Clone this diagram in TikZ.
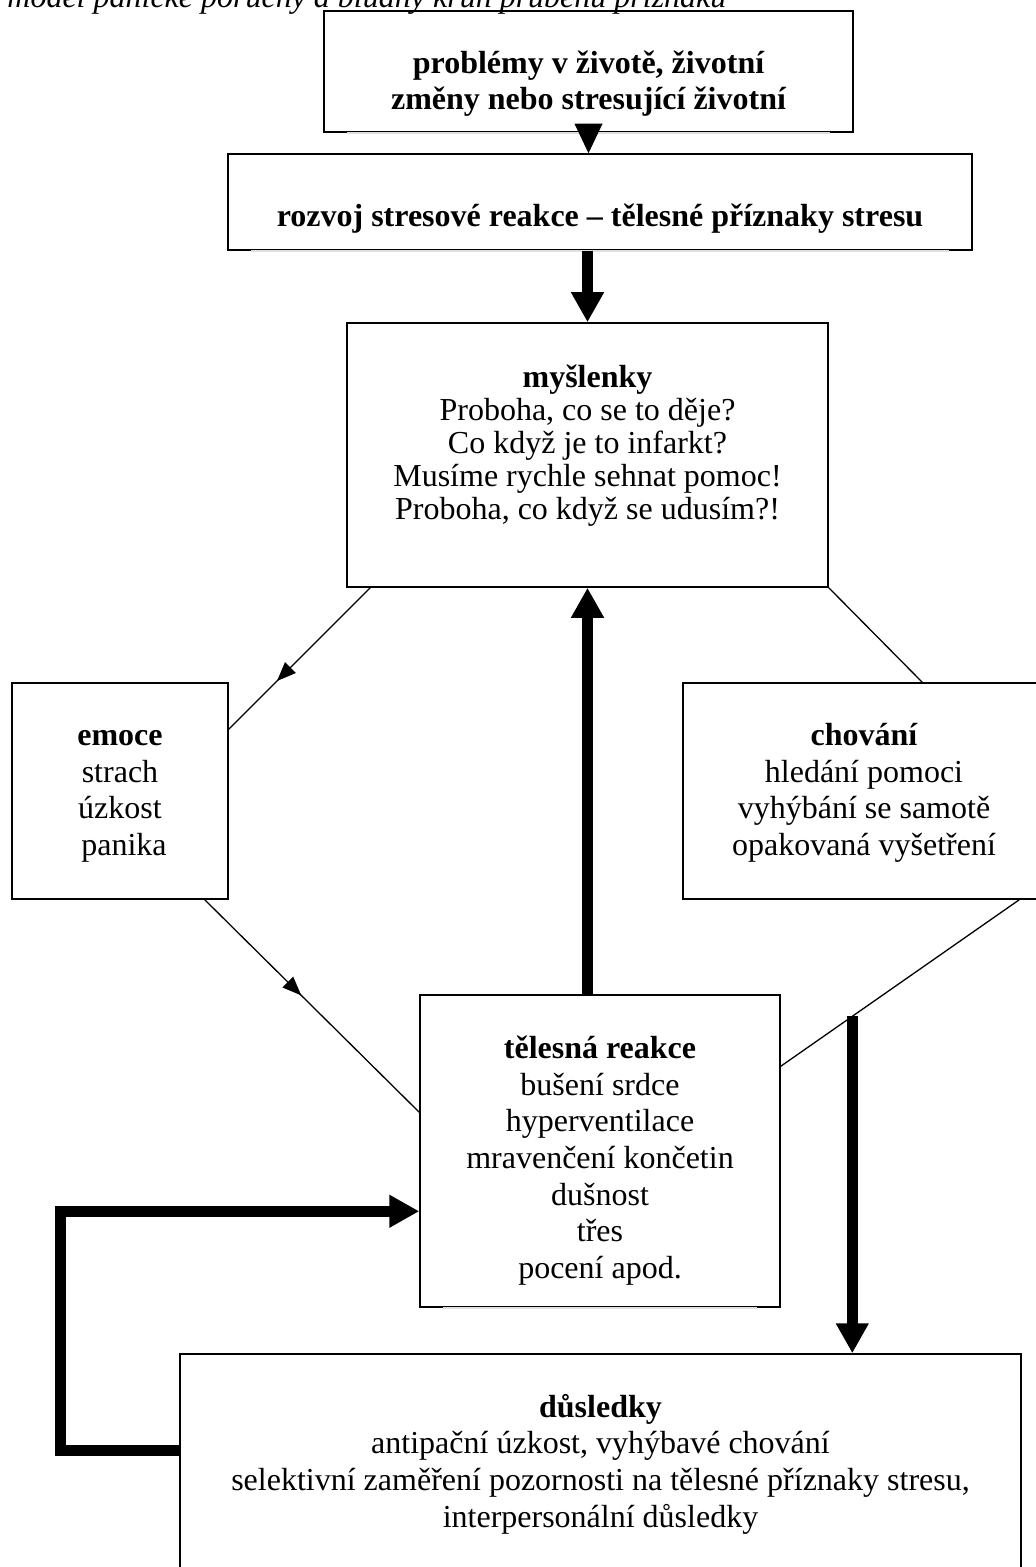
\documentclass[tikz,border=0pt]{standalone}
\usepackage{fontspec}
\setmainfont{Liberation Serif}
\usetikzlibrary{arrows.meta,calc,fit,decorations.markings}
\begin{document}
\begin{tikzpicture}[x=0.5pt,y=-0.5pt,
  box/.style={draw=black, line width=0.75pt, inner sep=0pt},
  txt/.style={anchor=base, inner sep=0pt, font=\fontsize{16pt}{18pt}\selectfont},
  btxt/.style={anchor=base, inner sep=0pt, font=\fontsize{16pt}{18pt}\selectfont\bfseries},
  thinline/.style={line width=0.65pt},
  fatarrow/.style={line width=5.5pt, -{Triangle[length=15pt, width=15.5pt]}},
  gapline/.style={draw=black!12, line width=1pt},
  midarrow/.style={postaction={decorate}, decoration={markings, mark=at position #1 with {\arrow{Triangle[length=9.5pt, width=7.5pt]}}}}
]
\useasboundingbox (0,0) rectangle (1036,1567);

% caption (clipped at the top of the page)
\node[anchor=base west, inner sep=0pt, font=\fontsize{16pt}{18pt}\selectfont\itshape] (cap) at (7,8) {model panické poruchy a bludný kruh průběhu příznaků};

% boxes
\node[box, fit={(324,11) (853,132)}] (top) {};
\node[box, fit={(228,154) (972,250)}] (second) {};
\node[box, fit={(347,323) (828,587)}] (mys) {};
\node[box, fit={(12,683) (228,899)}] (emoce) {};
\node[box, fit={(683,683) (1045,899)}] (chov) {};
\node[box, fit={(420,995) (780,1307)}] (tel) {};
\node[box, fit={(180,1354) (1021,1590)}] (dus) {};

% broken bottom edges
\draw[gapline] ($(top.south west)+(24,0)$) -- ($(top.south east)+(-24,0)$);
\draw[gapline] ($(second.south west)+(24,0)$) -- ($(second.south east)+(-24,0)$);
\draw[gapline] ($(tel.south west)+(24,0)$) -- ($(tel.south east)+(-24,0)$);

% texts
\node[btxt] (t1a) at (top.center |- 0,74) {problémy v životě, životní};
\node[btxt] (t1b) at (top.center |- 0,110) {změny nebo stresující životní};

\node[btxt] (t2) at (second.center |- 0,227) {rozvoj stresové reakce – tělesné příznaky stresu};

\node[btxt] (m0) at (mys.center |- 0,387) {myšlenky};
\node[txt] (m1) at (mys.center |- 0,420) {Proboha, co se to děje?};
\node[txt] (m2) at (mys.center |- 0,453) {Co když je to infarkt?};
\node[txt] (m3) at (mys.center |- 0,486) {Musíme rychle sehnat pomoc!};
\node[txt] (m4) at (mys.center |- 0,519) {Proboha, co když se udusím?!};

\node[btxt] (e0) at (emoce.center |- 0,745) {emoce};
\node[txt] (e1) at (emoce.center |- 0,782) {strach};
\node[txt] (e2) at (emoce.center |- 0,818) {úzkost};
\node[txt] (e3) at ($(emoce.center |- 0,855)+(4,0)$) {panika};

\node[btxt] (c0) at (chov.center |- 0,745) {chování};
\node[txt] (c1) at (chov.center |- 0,782) {hledání pomoci};
\node[txt] (c2) at (chov.center |- 0,818) {vyhýbání se samotě};
\node[txt] (c3) at (chov.center |- 0,855) {opakovaná vyšetření};

\node[btxt] (r0) at (tel.center |- 0,1058) {tělesná reakce};
\node[txt] (r1) at (tel.center |- 0,1095) {bušení srdce};
\node[txt] (r2) at (tel.center |- 0,1131) {hyperventilace};
\node[txt] (r3) at (tel.center |- 0,1168) {mravenčení končetin};
\node[txt] (r4) at (tel.center |- 0,1205) {dušnost};
\node[txt] (r5) at (tel.center |- 0,1241) {třes};
\node[txt] (r6) at (tel.center |- 0,1278) {pocení apod.};

\node[btxt] (d0) at (dus.center |- 0,1417) {důsledky};
\node[txt] (d1) at (dus.center |- 0,1453) {antipační úzkost, vyhýbavé chování};
\node[txt] (d2) at (dus.center |- 0,1490) {selektivní zaměření pozornosti na tělesné příznaky stresu,};
\node[txt] (d3) at (dus.center |- 0,1527) {interpersonální důsledky};

% connectors
\fill ($(top.south)+(-14,-9)$) -- ($(top.south)+(14,-9)$) -- (top.south |- second.north) -- cycle;
\draw[fatarrow] (mys.north |- second.south) -- (mys.north);
\draw[fatarrow] (mys.south |- tel.north) -- (mys.south);

\draw[thinline, midarrow=0.66] ($(mys.south west)+(24,0)$) -- ($(emoce.north east)+(0,47)$);
\draw[thinline, midarrow=0.45] ($(emoce.south east)+(-24,0)$) -- ($(tel.north west)+(0,118)$);
\draw[thinline] (mys.south east) -- ($(chov.north west)+(240,0)$);
\draw[thinline] ($(chov.south west)+(337,0)$) -- coordinate[pos=0.7] (branch) ($(tel.north east)+(0,72)$);

\draw[fatarrow] (branch) -- (branch |- dus.north);

\coordinate (loopL) at (60,1450);
\draw[fatarrow, line join=miter] (dus.west |- loopL) -- (loopL) |- ($(tel.north west)+(0,217)$);
\end{tikzpicture}
\end{document}
